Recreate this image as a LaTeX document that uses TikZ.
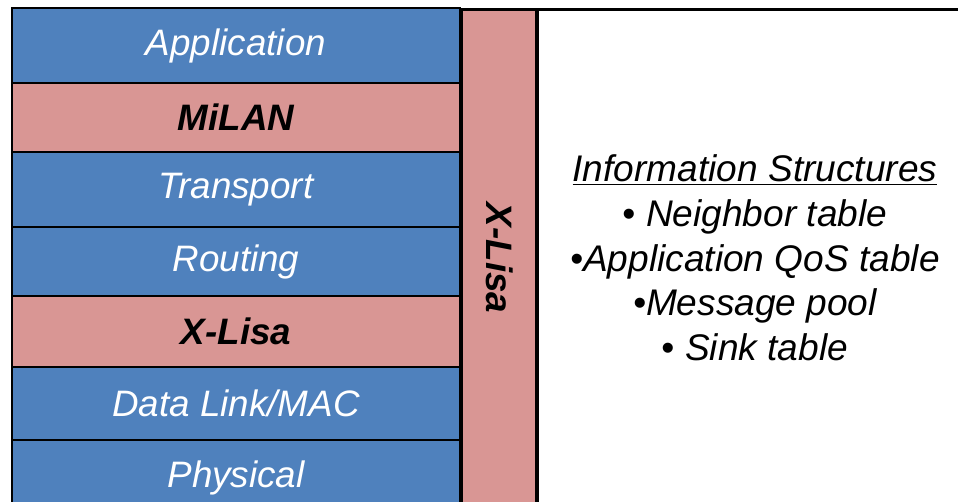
\documentclass[tikz,border=0pt]{standalone}
\usepackage{fontspec}
\setmainfont{Liberation Sans}
\usepackage{tikz}
\usetikzlibrary{positioning}

\definecolor{layerblue}{HTML}{4F81BD}
\definecolor{layerpink}{HTML}{D99694}

\tikzset{
    layer/.style={draw=black, line width=2pt, minimum width=336pt, inner sep=0pt,
        font=\fontsize{27.6}{33}\selectfont\itshape},
    bluelayer/.style={layer, fill=layerblue, text=white},
    pinklayer/.style={layer, fill=layerpink, text=black, font=\fontsize{27.6}{33}\selectfont\bfseries\itshape},
}

\begin{document}
\begin{tikzpicture}[x=0.75pt, y=-0.75pt]
            \useasboundingbox (0,0) rectangle (958,502);
            \clip (0,0) rectangle (958,502);
            % protocol stack
            \node [bluelayer, minimum height=56.25pt] (app) at (236,45.5) {Application};
            \node [pinklayer, minimum height=51.75pt] (milan) at (236,117.5) {MiLAN};
            \node [bluelayer, minimum height=56.25pt] (transport) at (236,189.5) {Transport};
            \node [bluelayer, minimum height=51.75pt] (routing) at (236,261.5) {Routing};
            \node [pinklayer, minimum height=53.25pt] (xlisa) at (236,331.5) {X-Lisa};
            \node [bluelayer, minimum height=54.75pt] (mac) at (236,403.5) {Data Link/MAC};
            \node [bluelayer, minimum height=56.25pt] (phy) at (236,477.5) {Physical};
            % cross-layer bar
            \node [pinklayer, minimum width=57pt, minimum height=380pt, anchor=north west] (bar) at (460,8) {};
            \node [rotate=-90, font=\fontsize{27.6}{33}\selectfont\bfseries\itshape] (barlabel) at (bar.center |- 0,258) {X-Lisa};
            % information structures
            \node [draw=black, line width=2pt, minimum width=360pt, minimum height=380pt, anchor=north west] (info) at (535,8) {};
            \node [align=center, font=\fontsize{27.8}{33.5}\selectfont\itshape] (infotext) at (755,258)
                {\underline{Information Structures}\\ • Neighbor table\\ •Application QoS table\\ •Message pool\\ • Sink table};
        \end{tikzpicture}
\end{document}
